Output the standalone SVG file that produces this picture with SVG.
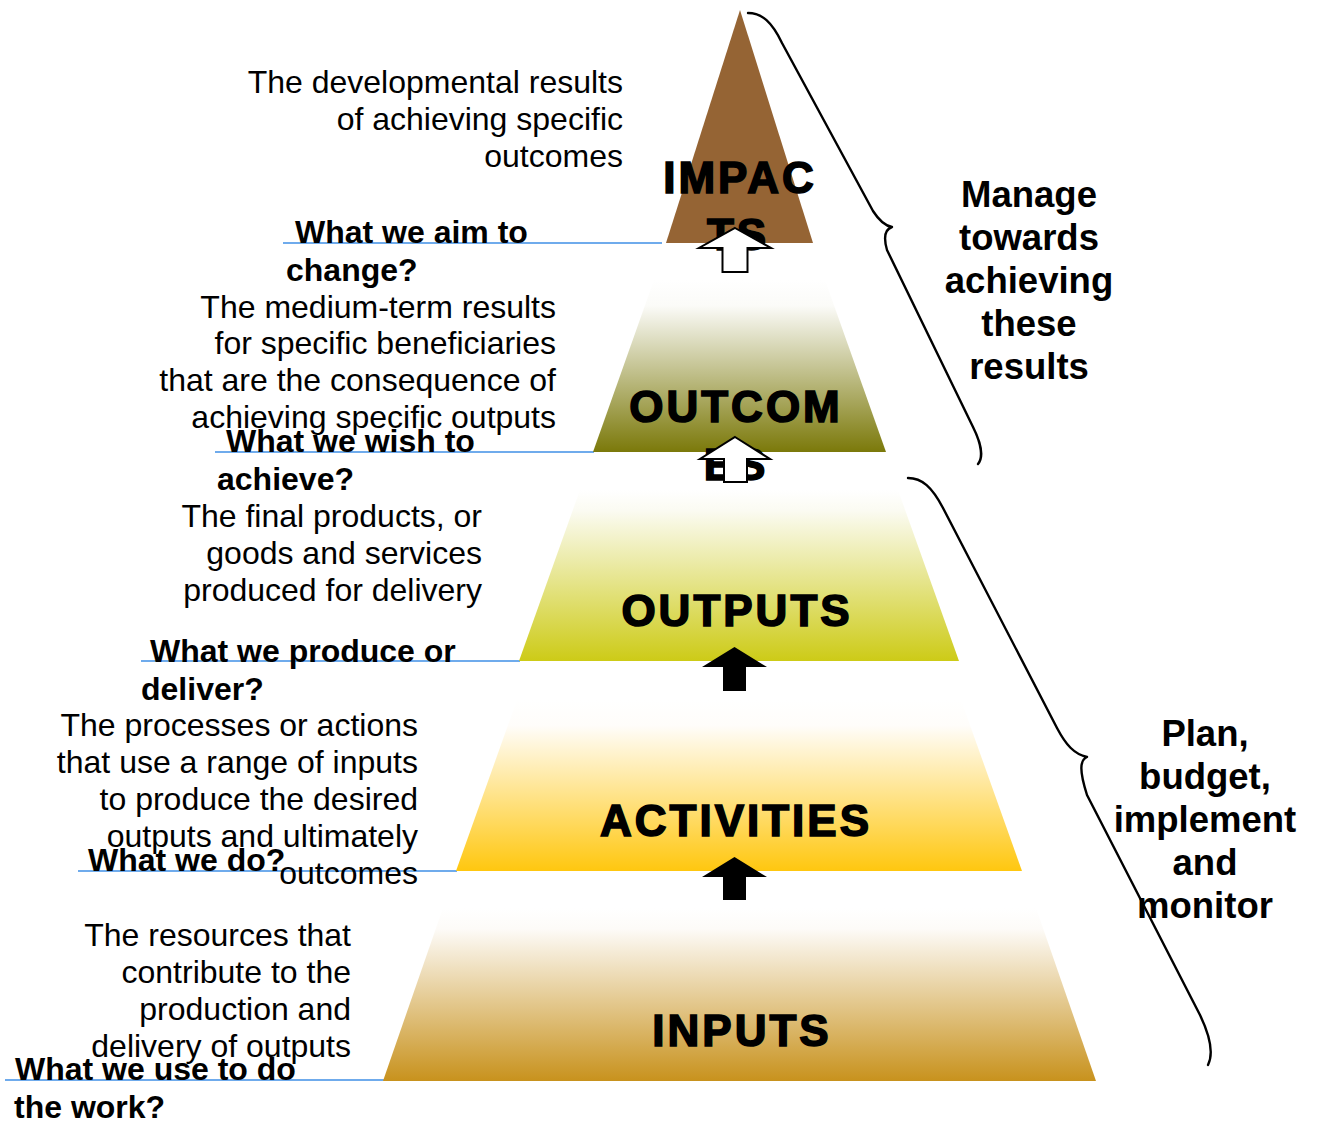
<svg xmlns="http://www.w3.org/2000/svg" width="1319" height="1124" viewBox="0 0 1319 1124">
<defs>
<style>
.desc{font-family:"Liberation Sans",Arial,sans-serif;font-size:32px;fill:#000;text-anchor:end}
.q{font-family:"Liberation Sans",Arial,sans-serif;font-size:32px;font-weight:bold;fill:#000}
.side{font-family:"Liberation Sans",Arial,sans-serif;font-size:36.5px;font-weight:bold;fill:#000;text-anchor:middle}
.lvl{font-family:"Liberation Sans",Arial,sans-serif;font-size:44px;font-weight:bold;fill:#000;stroke:#000;stroke-width:1.6;letter-spacing:3px;text-anchor:middle}
.rule{stroke:#3f8fe6;stroke-width:1.6;fill:none}
.brace{stroke:#000;stroke-width:2.4;fill:none;stroke-linecap:round;stroke-linejoin:round}
.wa{fill:#fff;stroke:#000;stroke-width:2}
.ba{fill:#000;stroke:none}
</style>
<linearGradient id="gOut" x1="0" y1="0" x2="0" y2="1">
<stop offset="0" stop-color="#ffffff"/><stop offset="0.15" stop-color="#fbfbf8"/><stop offset="1" stop-color="#7b790a"/>
</linearGradient>
<linearGradient id="gPut" x1="0" y1="0" x2="0" y2="1">
<stop offset="0" stop-color="#ffffff"/><stop offset="0.12" stop-color="#fbfbf2"/><stop offset="1" stop-color="#cdcb17"/>
</linearGradient>
<linearGradient id="gAct" x1="0" y1="0" x2="0" y2="1">
<stop offset="0" stop-color="#ffffff"/><stop offset="0.15" stop-color="#fffdfa"/><stop offset="1" stop-color="#ffc70f"/>
</linearGradient>
<linearGradient id="gInp" x1="0" y1="0" x2="0" y2="1">
<stop offset="0" stop-color="#ffffff"/><stop offset="0.12" stop-color="#fdfbf8"/><stop offset="1" stop-color="#c8921d"/>
</linearGradient>
</defs>
<rect width="1319" height="1124" fill="#fff"/>

<g id="connectors">
<line class="rule" x1="283" y1="243" x2="662" y2="243"/>
<line class="rule" x1="215" y1="452" x2="594" y2="452"/>
<line class="rule" x1="141" y1="661" x2="520" y2="661"/>
<line class="rule" x1="78" y1="871" x2="457" y2="871"/>
<line class="rule" x1="5" y1="1080" x2="384" y2="1080"/>
</g>

<g id="impacts">
<polygon points="740,10 813,243 666,243" fill="#956434"/>
<text class="lvl" x="740" y="193">IMPAC</text>
<text class="lvl" x="738" y="250">TS</text>
</g>

<g id="outcomes">
<polygon points="654,280 825,280 886,452 593,452" fill="url(#gOut)"/>
<text class="lvl" x="736" y="422">OUTCOM</text>
<text class="lvl" x="736" y="480">ES</text>
</g>

<g id="outputs">
<polygon points="580,490 898,490 959,661 519,661" fill="url(#gPut)"/>
<text class="lvl" x="737" y="626">OUTPUTS</text>
</g>

<g id="activities">
<polygon points="517,700 961,700 1022,871 456,871" fill="url(#gAct)"/>
<text class="lvl" x="736" y="836">ACTIVITIES</text>
</g>

<g id="inputs">
<polygon points="443,908 1036,908 1096,1081 383,1081" fill="url(#gInp)"/>
<text class="lvl" x="742" y="1046">INPUTS</text>
</g>

<g id="arrows">
<path class="wa" d="M735,228 L771,248 L747.5,248 L747.5,272 L722.5,272 L722.5,248 L699,248 Z"/>
<path class="wa" d="M735,437 L770,459 L747,459 L747,482 L724,482 L724,459 L700,459 Z"/>
<path class="ba" d="M734.5,647 L767,667 L746,667 L746,691 L723,691 L723,667 L702,667 Z"/>
<path class="ba" d="M734.5,857 L767,877 L746,877 L746,900 L723,900 L723,877 L702,877 Z"/>
</g>

<g id="braces">
<path class="brace" d="M748,13 C762,13 772,22 782,43 L873,211 C880,222 886,226 892,227 C886,229 883,236 887,250 L973,427 C982,445 983,458 978,464"/>
<path class="brace" d="M908,478 C922,478 932,487 943,508 L1057,728 C1066,745 1074,754 1087,757 C1080,760 1079,770 1087,795 L1200,1015 C1212,1040 1213,1055 1208,1065"/>
</g>

<g id="desc-impacts">
<text class="desc" x="623" y="93">The developmental results</text>
<text class="desc" x="623" y="130">of achieving specific</text>
<text class="desc" x="623" y="167">outcomes</text>
<text class="q" x="295" y="243">What we aim to</text>
<text class="q" x="286" y="281">change?</text>
</g>

<g id="desc-outcomes">
<text class="desc" x="556" y="318">The medium-term results</text>
<text class="desc" x="556" y="354">for specific beneficiaries</text>
<text class="desc" x="556" y="391">that are the consequence of</text>
<text class="desc" x="556" y="428">achieving specific outputs</text>
<text class="q" x="226" y="452">What we wish to</text>
<text class="q" x="217" y="490">achieve?</text>
</g>

<g id="desc-outputs">
<text class="desc" x="482" y="527">The final products, or</text>
<text class="desc" x="482" y="564">goods and services</text>
<text class="desc" x="482" y="601">produced for delivery</text>
<text class="q" x="150" y="662">What we produce or</text>
<text class="q" x="141" y="700">deliver?</text>
</g>

<g id="desc-activities">
<text class="desc" x="418" y="736">The processes or actions</text>
<text class="desc" x="418" y="773">that use a range of inputs</text>
<text class="desc" x="418" y="810">to produce the desired</text>
<text class="desc" x="418" y="847">outputs and ultimately</text>
<text class="desc" x="418" y="884">outcomes</text>
<text class="q" x="88" y="871">What we do?</text>
</g>

<g id="desc-inputs">
<text class="desc" x="351" y="946">The resources that</text>
<text class="desc" x="351" y="983">contribute to the</text>
<text class="desc" x="351" y="1020">production and</text>
<text class="desc" x="351" y="1057">delivery of outputs</text>
<text class="q" x="15" y="1080">What we use to do</text>
<text class="q" x="14" y="1118">the work?</text>
</g>

<g id="manage">
<text class="side" x="1029" y="207">Manage</text>
<text class="side" x="1029" y="250">towards</text>
<text class="side" x="1029" y="293">achieving</text>
<text class="side" x="1029" y="336">these</text>
<text class="side" x="1029" y="379">results</text>
</g>

<g id="plan">
<text class="side" x="1205" y="746">Plan,</text>
<text class="side" x="1205" y="789">budget,</text>
<text class="side" x="1205" y="832">implement</text>
<text class="side" x="1205" y="875">and</text>
<text class="side" x="1205" y="918">monitor</text>
</g>
</svg>
